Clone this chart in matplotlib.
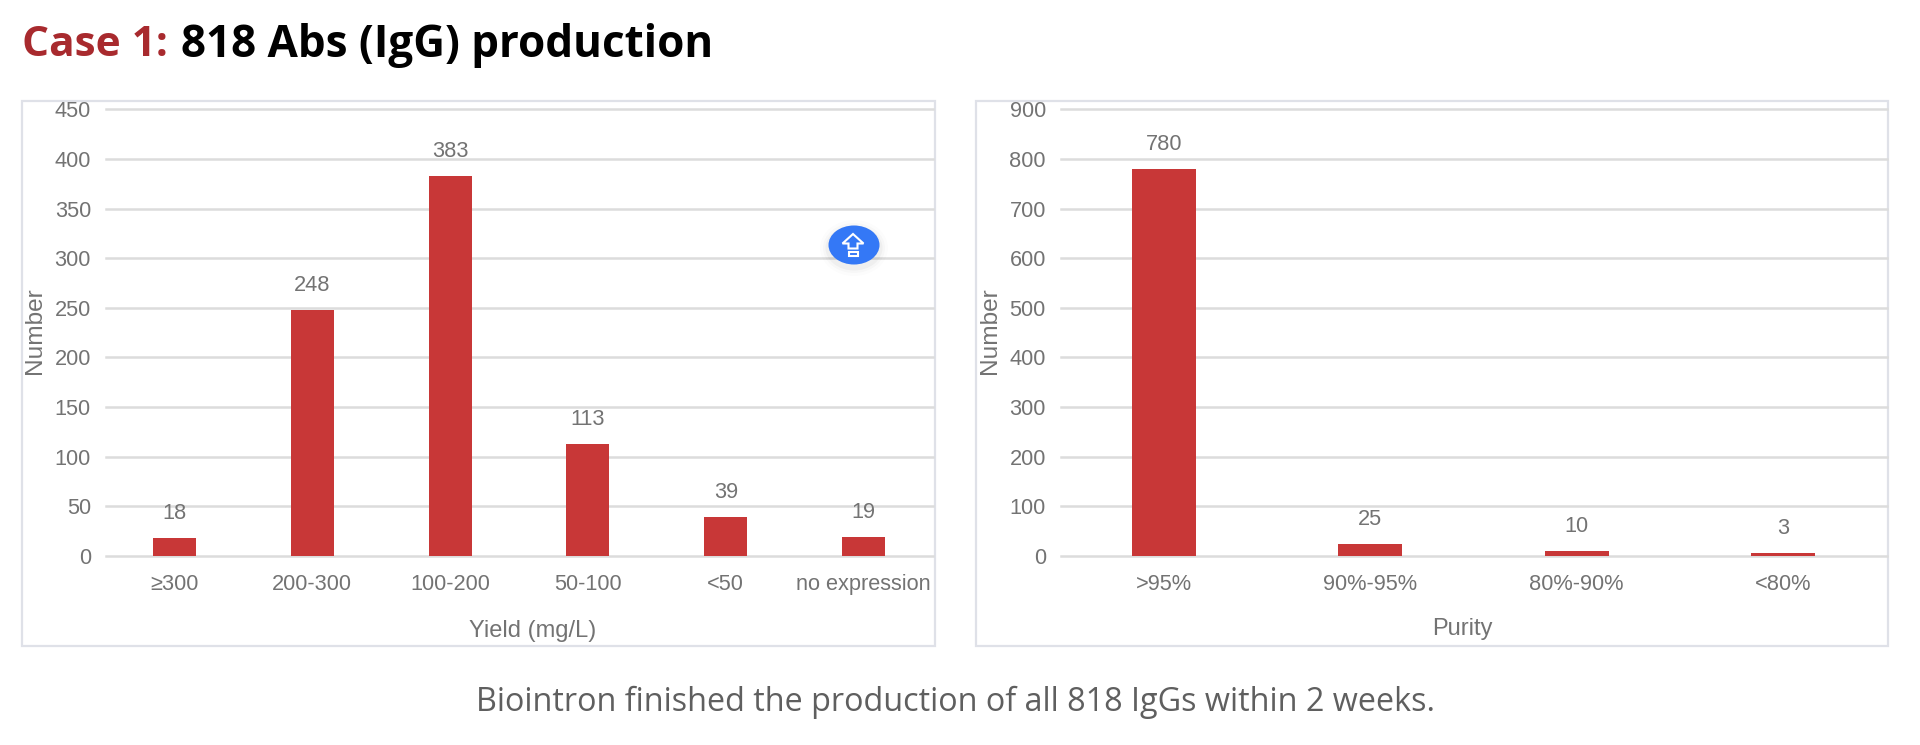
import matplotlib
matplotlib.use("Agg")
import matplotlib.pyplot as plt
from matplotlib.patches import Rectangle, Ellipse, Polygon

W, H = 1920, 745

# ---- data ----
yield_categories = ["≥300", "200-300", "100-200", "50-100", "<50", "no expression"]
yield_values = [18, 248, 383, 113, 39, 19]
yield_labels = ["18", "248", "383", "113", "39", "19"]
yield_ticks = [0, 50, 100, 150, 200, 250, 300, 350, 400, 450]

purity_categories = [">95%", "90%-95%", "80%-90%", "<80%"]
purity_values = [780, 25, 10, 7]          # bar heights as drawn
purity_labels = ["780", "25", "10", "3"]  # labels as printed
purity_ticks = [0, 100, 200, 300, 400, 500, 600, 700, 800, 900]

RED = "#c83737"
GRID = "#dcdcdc"
TXT = "#737373"
FRAME = "#dfe1e8"
SANS = "Liberation Sans"
TICK_SIZE = 15.7

fig = plt.figure(figsize=(W / 100, H / 100), dpi=100, facecolor="white")

# overlay in pixel coordinates for page furniture
page = fig.add_axes([0, 0, 1, 1], zorder=0)
page.set_xlim(0, W)
page.set_ylim(H, 0)
page.axis("off")


def axes_px(l, t, r, b):
    return fig.add_axes([l / W, 1 - b / H, (r - l) / W, (b - t) / H], zorder=1, facecolor="none")


def bar_panel(ax, cats, vals, labels, ticks, xlabel, xlabel_x, xlabel_y, ylabel_x):
    xs = list(range(len(cats)))
    ax.yaxis.grid(True, color=GRID, lw=1.8, zorder=0)
    ax.set_axisbelow(True)
    ax.bar(xs, vals, width=0.312, color=RED, zorder=2)
    ax.set_xlim(-0.5, len(cats) - 0.5)
    ax.set_ylim(0, ticks[-1])
    ax.set_yticks(ticks)
    ax.set_xticks(xs, cats)
    for line in ax.get_ygridlines():
        line.set_clip_on(False)
    for s in ax.spines.values():
        s.set_visible(False)
    ax.tick_params(axis="y", length=0, pad=10.5, labelsize=TICK_SIZE, labelcolor=TXT)
    ax.tick_params(axis="x", length=0, pad=13.2, labelsize=TICK_SIZE, labelcolor=TXT)
    for t in ax.get_xticklabels() + ax.get_yticklabels():
        t.set_family(SANS)
    for x, v, lab in zip(xs, vals, labels):
        ax.annotate(lab, (x, v), xytext=(0, 17.5), textcoords="offset points",
                    ha="center", va="center", fontsize=TICK_SIZE, color=TXT, family=SANS)
    page.text(xlabel_x, xlabel_y, xlabel, ha="center", va="center", fontsize=17,
              color=TXT, family=SANS)
    page.text(ylabel_x, 331, "Number", ha="center", va="center", rotation=90,
              fontsize=17.6, color=TXT, family=SANS)


# frames
for l, r, b in [(21.5, 934.5, 645.5), (975.5, 1887.5, 645.5)]:
    page.add_patch(Rectangle((l, 101), r - l, b - 101, fill=False, ec=FRAME, lw=1.6))

left = axes_px(105.5, 109.3, 932.5, 556)
bar_panel(left, yield_categories, yield_values, yield_labels, yield_ticks,
          "Yield (mg/L)", 533, 631, 35)

right = axes_px(1060.5, 109.3, 1886.5, 556)
bar_panel(right, purity_categories, purity_values, purity_labels, purity_ticks,
          "Purity", 1462, 629, 990)

# heading and caption
page.text(22, 46, "Case 1:", ha="left", va="center", fontsize=30.5, fontweight="bold",
          color="#a82a2e", family="Open Sans")
page.text(181, 46, "818 Abs (IgG) production", ha="left", va="center", fontsize=31.7,
          fontweight="bold", color="black", family="Open Sans")
page.text(955, 702, "Biointron finished the production of all 818 IgGs within 2 weeks.",
          ha="center", va="center", fontsize=23.3, color="#5f5f5f", family="Open Sans")

# floating button
over = fig.add_axes([0, 0, 1, 1], zorder=3, facecolor="none")
over.set_xlim(0, W)
over.set_ylim(H, 0)
over.axis("off")
for grow, a in [(16, 0.012), (10, 0.02), (5, 0.03)]:
    over.add_patch(Ellipse((854, 248), 52 + grow, 40 + grow, fc="black", ec="none", alpha=a))
over.add_patch(Ellipse((854, 245), 51, 39, fc="#3478f6", ec="none"))
over.add_patch(Polygon([(853, 234), (842.5, 243.5), (848.5, 243.5), (848.5, 248.5),
                        (857.5, 248.5), (857.5, 243.5), (863.5, 243.5)],
                       closed=True, fc="none", ec="white", lw=1.5))
over.add_patch(Rectangle((848.5, 251.5), 9.5, 4, fc="none", ec="white", lw=1.5))

fig.savefig("out.png", dpi=100, facecolor="white")
